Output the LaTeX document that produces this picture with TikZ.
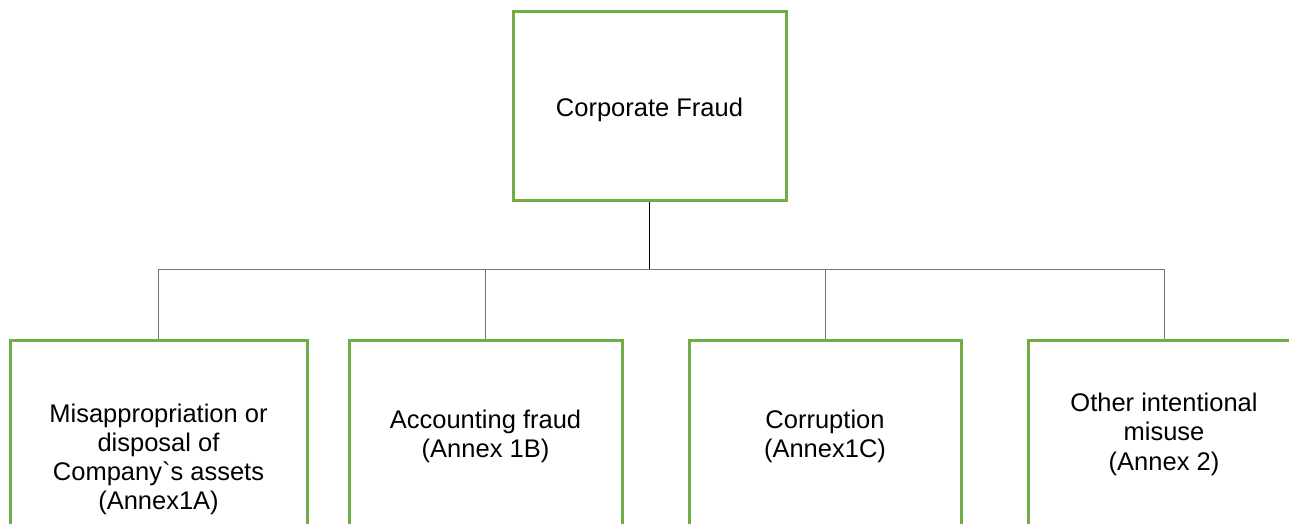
\documentclass[tikz,border=0pt]{standalone}
\usepackage{fontspec}
\setmainfont{Liberation Sans}
\definecolor{boxgreen}{RGB}{112,173,71}
\begin{document}
\begin{tikzpicture}[x=1pt,y=-1pt,
  box/.style={draw=boxgreen, line width=3pt, fill=white, rectangle, inner sep=0pt},
  lbl/.style={align=center, inner sep=0pt, font=\fontsize{25.5}{29.3}\selectfont},
  stem/.style={draw=black, line width=1pt},
  bus/.style={draw=black!55, line width=1pt}]
\useasboundingbox (0,0) rectangle (1289,524);
\clip (0,0) rectangle (1289,524);
\fill[white] (0,0) rectangle (1289,524);
% boxes
\node[box, minimum width=273pt, minimum height=188pt] (top) at (649.5,106) {};
\node[box, minimum width=297pt, minimum height=240pt] (b1) at (158.5,460) {};
\node[box, minimum width=273pt, minimum height=240pt] (b2) at (485.5,460) {};
\node[box, minimum width=272pt, minimum height=240pt] (b3) at (825,460) {};
\node[box, minimum width=272pt, minimum height=240pt] (b4) at (1164,460) {};
% bus coordinate
\coordinate (bus) at (649.5,269);
% connectors
\draw[stem] (top.south) -- (bus);
\draw[bus] (bus) -| (b1.north);
\draw[bus] (bus) -| (b2.north);
\draw[bus] (bus) -| (b3.north);
\draw[bus] (bus) -| (b4.north);
% labels
\node[lbl] (t0) at (649.5,111.1) {\strut Corporate Fraud};
\node[lbl] (t1) at (158.5,460.1) {\strut Misappropriation or\\\strut disposal of\\\strut Company\textasciigrave s assets\\\strut (Annex1A)};
\node[lbl] (t2) at (485.5,436.9) {\strut Accounting fraud\\\strut (Annex 1B)};
\node[lbl] (t3) at (825,436.9) {\strut Corruption\\\strut (Annex1C)};
\node[lbl] (t4) at (1164,435.1) {\strut Other intentional\\\strut misuse\\\strut (Annex 2)};
\end{tikzpicture}
\end{document}
